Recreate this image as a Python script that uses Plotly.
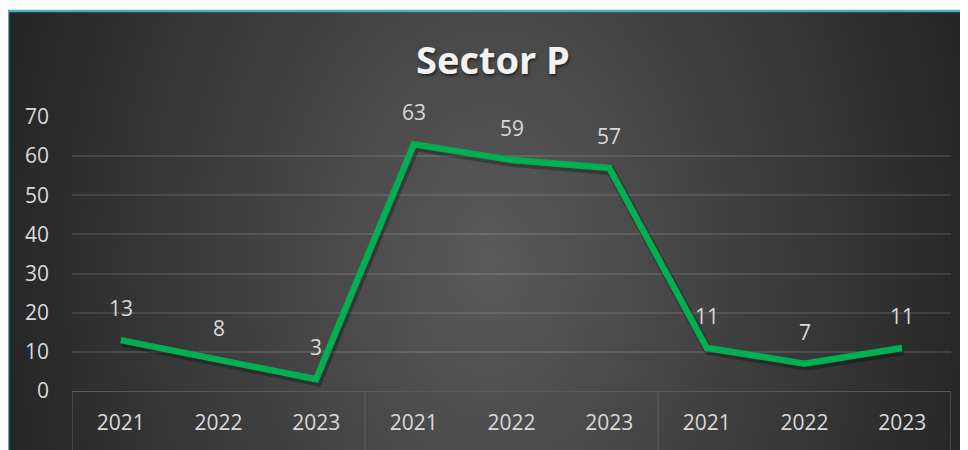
import base64, zlib, struct
import numpy as np
import plotly.graph_objects as go

# ---- data ----
title_text = "Sector P"
years = ["2021", "2022", "2023", "2021", "2022", "2023", "2021", "2022", "2023"]
group_size = 3
values = [13, 8, 3, 63, 59, 57, 11, 7, 11]
y_ticks = [0, 10, 20, 30, 40, 50, 60, 70]

# page has an 8px body margin: figure pixel = page pixel - 8
OFF = 8
W, H = 968, 442
L, R, T, B = 64, 25, 109, 59
PW, PH = W - L - R, H - T - B

def fx(page_x):
    return page_x - OFF

def fy(page_y):
    return page_y - OFF

def paper_x(page_x):
    return (fx(page_x) - L) / PW

def paper_y(page_y):
    return (H - B - fy(page_y)) / PH

# ---- radial gradient background as PNG ----
def make_png(arr):
    h, w, _ = arr.shape
    raw = b"".join(b"\x00" + arr[i].tobytes() for i in range(h))
    def chunk(tag, data):
        c = struct.pack(">I", len(data)) + tag + data
        return c + struct.pack(">I", zlib.crc32(tag + data) & 0xffffffff)
    png = b"\x89PNG\r\n\x1a\n"
    png += chunk(b"IHDR", struct.pack(">IIBBBBB", w, h, 8, 2, 0, 0, 0))
    png += chunk(b"IDAT", zlib.compress(raw, 9))
    png += chunk(b"IEND", b"")
    return "data:image/png;base64," + base64.b64encode(png).decode()

bx0, by0 = 8, 11          # page coords of chart-area top-left
bw, bh = 976 - bx0, 450 - by0
sc = 2
gw, gh = bw // sc, bh // sc
yy, xx = np.mgrid[0:gh, 0:gw].astype(float)
xx = bx0 + xx * sc
yy = by0 + yy * sc
r = np.sqrt(((xx - 488) / 490) ** 2 + ((yy - 260) / 700) ** 2)
r = np.clip(r, 0, 1)
c0, c1 = 90.0, 38.0
c = c0 + (c1 - c0) * r
img = np.stack([c, c, c], axis=-1).round().astype(np.uint8)
bg_src = make_png(img)

xs = list(range(len(values)))
x_range = [-0.5, len(values) - 0.5]
y_range = [0, 70]
# shadow offset (pixels) expressed through shifted overlay axis ranges
sdx, sdy = 1.5, 2.5
ux = (x_range[1] - x_range[0]) / PW
uy = (y_range[1] - y_range[0]) / PH
x2_range = [x_range[0] - sdx * ux, x_range[1] - sdx * ux]
y2_range = [y_range[0] + sdy * uy, y_range[1] + sdy * uy]

fig = go.Figure()
fig.add_trace(go.Scatter(
    x=xs, y=values, mode="lines", xaxis="x2", yaxis="y2",
    line=dict(color="rgba(0,0,0,0.28)", width=9),
    hoverinfo="skip", showlegend=False,
))
fig.add_trace(go.Scatter(
    x=xs, y=values, mode="lines", xaxis="x3", yaxis="y3",
    line=dict(color="#00b050", width=6.5),
    hoverinfo="skip", showlegend=False,
))

annotations = []
for xi, v in zip(xs, values):
    annotations.append(dict(
        x=xi, y=v, xref="x", yref="y", text=str(v), showarrow=False,
        yshift=32, font=dict(family="Open Sans", size=21, color="#d9d9d9"),
    ))

shapes = []
# group separators
for g in range(len(values) // group_size + 1):
    xsep = g * group_size - 0.5
    shapes.append(dict(type="line", xref="x", yref="paper",
                       x0=xsep, x1=xsep, y0=0, y1=-0.5,
                       line=dict(color="#5a5a5a", width=1.3), layer="above"))
# chart borders
shapes.append(dict(type="line", xref="paper", yref="paper",
                   x0=paper_x(bx0), x1=paper_x(990), y0=paper_y(by0), y1=paper_y(by0),
                   line=dict(color="#4bacc6", width=2.5)))
shapes.append(dict(type="line", xref="paper", yref="paper",
                   x0=paper_x(bx0), x1=paper_x(bx0), y0=paper_y(by0), y1=paper_y(460),
                   line=dict(color="#4bacc6", width=2.5)))

hidden = dict(visible=False, showgrid=False, zeroline=False, fixedrange=True)

fig.update_layout(
    width=W, height=H,
    margin=dict(l=L, r=R, t=T, b=B, pad=0),
    paper_bgcolor="white",
    plot_bgcolor="rgba(0,0,0,0)",
    images=[dict(source=bg_src, xref="paper", yref="paper",
                 x=paper_x(bx0), y=paper_y(by0), sizex=bw / PW, sizey=bh / PH,
                 xanchor="left", yanchor="top", sizing="stretch", layer="below")],
    title=dict(text=title_text, x=fx(493) / W, xanchor="center", y=1 - fy(61) / H, yanchor="middle",
               xref="container", yref="container",
               font=dict(family="Open Sans", size=38, color="#f2f2f2", weight="bold",
                         shadow="1px 2px 3px rgba(0,0,0,0.55)")),
    xaxis=dict(range=x_range, tickvals=xs, ticktext=years,
               showgrid=False, zeroline=False, showline=True, linecolor="#5a5a5a", linewidth=1.3,
               ticks="", ticklabelstandoff=13,
               tickfont=dict(family="Open Sans", size=21, color="#d9d9d9")),
    yaxis=dict(range=y_range, tickvals=y_ticks, showgrid=True,
               gridcolor="rgba(255,255,255,0.11)", gridwidth=1.5,
               zeroline=False, showline=False, ticks="", ticklabelstandoff=22,
               tickfont=dict(family="Open Sans", size=21, color="#d9d9d9")),
    xaxis2=dict(range=x2_range, overlaying="x", **hidden),
    yaxis2=dict(range=y2_range, overlaying="y", **hidden),
    xaxis3=dict(range=x_range, overlaying="x", **hidden),
    yaxis3=dict(range=y_range, overlaying="y", **hidden),
    annotations=annotations,
    shapes=shapes,
)

fig.write_html("out.html")
